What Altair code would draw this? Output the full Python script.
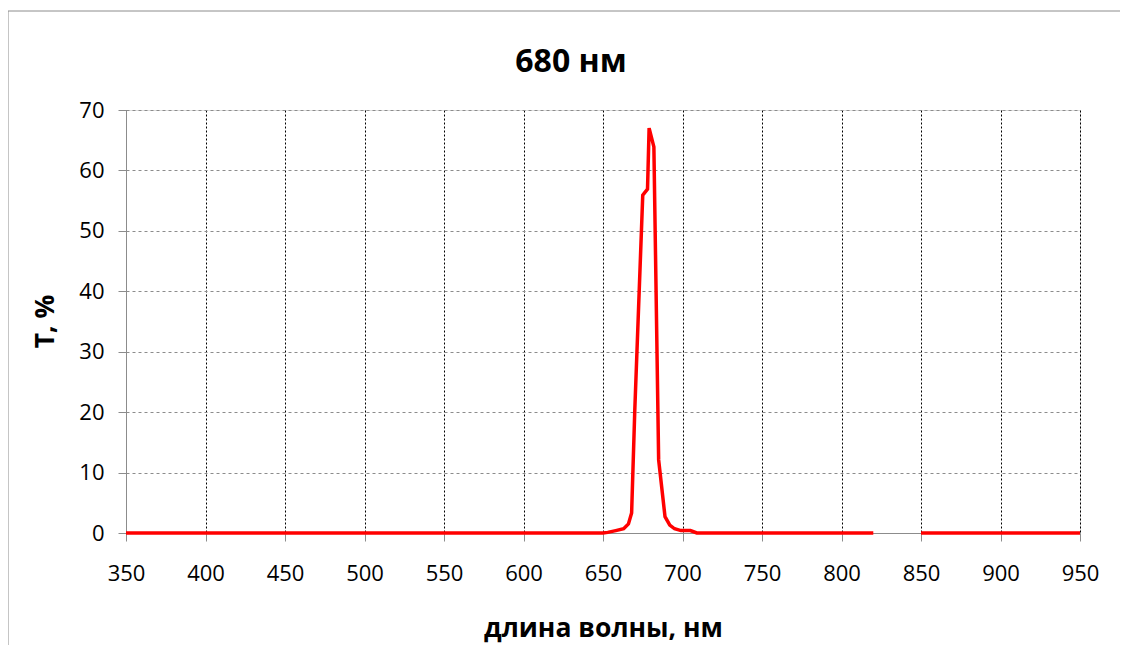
import altair as alt
import pandas as pd

# wavelength (nm) and transmission (%) for the two plotted segments
seg1_nm = [350, 375, 400, 425, 450, 475, 500, 525, 550, 575, 600, 625, 650,
           653, 658, 663, 666, 668, 670, 675, 678, 679, 682, 685, 689, 692,
           695, 699, 705, 709, 720, 740, 760, 780, 800, 820]
seg1_t = [0, 0, 0, 0, 0, 0, 0, 0, 0, 0, 0, 0, 0,
          0.1, 0.4, 0.7, 1.5, 3.3, 20.4, 55.9, 56.9, 67.0, 63.9, 12.1, 2.7, 1.3,
          0.7, 0.4, 0.4, 0, 0, 0, 0, 0, 0, 0]
seg2_nm = [850, 875, 900, 925, 950]
seg2_t = [0, 0, 0, 0, 0]

x_ticks = [350, 400, 450, 500, 550, 600, 650, 700, 750, 800, 850, 900, 950]
y_ticks = [0, 10, 20, 30, 40, 50, 60, 70]

df = pd.DataFrame({
    "nm": seg1_nm + seg2_nm,
    "T": seg1_t + seg2_t,
    "seg": ["a"] * len(seg1_nm) + ["b"] * len(seg2_nm),
})

FONT = "Open Sans"

line = alt.Chart(df).mark_line(color="#FF0000", strokeWidth=3.5).encode(
    x=alt.X("nm:Q",
            scale=alt.Scale(domain=[350, 950], nice=False, zero=False),
            axis=alt.Axis(values=x_ticks, title="длина волны, нм",
                          grid=True, gridColor="#000000", gridDash=[2, 2],
                          gridWidth=1, gridOpacity=1,
                          domainColor="#8c8c8c", tickColor="#8c8c8c",
                          tickSize=8, labelFont=FONT, labelFontSize=22,
                          labelColor="#000000", labelPadding=22,
                          labelFlush=False, labelOverlap=False,
                          titleFont=FONT, titleFontSize=26.5, titleFontWeight="bold",
                          titleColor="#000000", titleBaseline="alphabetic",
                          titleY=103)),
    y=alt.Y("T:Q",
            scale=alt.Scale(domain=[0, 70], nice=False),
            axis=alt.Axis(values=y_ticks, title="T, %",
                          grid=True, gridColor="#8c8c8c", gridDash=[3, 3],
                          gridWidth=1, gridOpacity=1,
                          domainColor="#8c8c8c", tickColor="#8c8c8c",
                          tickSize=8, labelFont=FONT, labelFontSize=22,
                          labelColor="#000000", labelPadding=14,
                          labelFlush=False,
                          titleFont=FONT, titleFontSize=26.5, titleFontWeight="bold",
                          titleColor="#000000", titleBaseline="middle",
                          titleX=-81, titleY=211)),
    detail="seg:N",
)

frame = alt.Chart(pd.DataFrame({"k": [0]})).mark_rect(
    fill=None, stroke="#8c8c8c", strokeWidth=1
).encode(
    x=alt.value(-118), x2=alt.value(2000),
    y=alt.value(-99), y2=alt.value(2000),
)

chart = alt.layer(frame, line).properties(
    width=954, height=423,
    title=alt.TitleParams("680 нм", font=FONT, fontSize=32, fontWeight="bold",
                          color="#000000", anchor="middle", frame="group",
                          baseline="alphabetic", offset=-93, dx=-32),
    padding={"left": 118, "top": 102, "right": 40, "bottom": 112},
    autosize=alt.AutoSizeParams(type="none"),
).configure_view(stroke=None).configure(background="white")

chart.save("out.html", embed_options={"renderer": "svg", "actions": False})
